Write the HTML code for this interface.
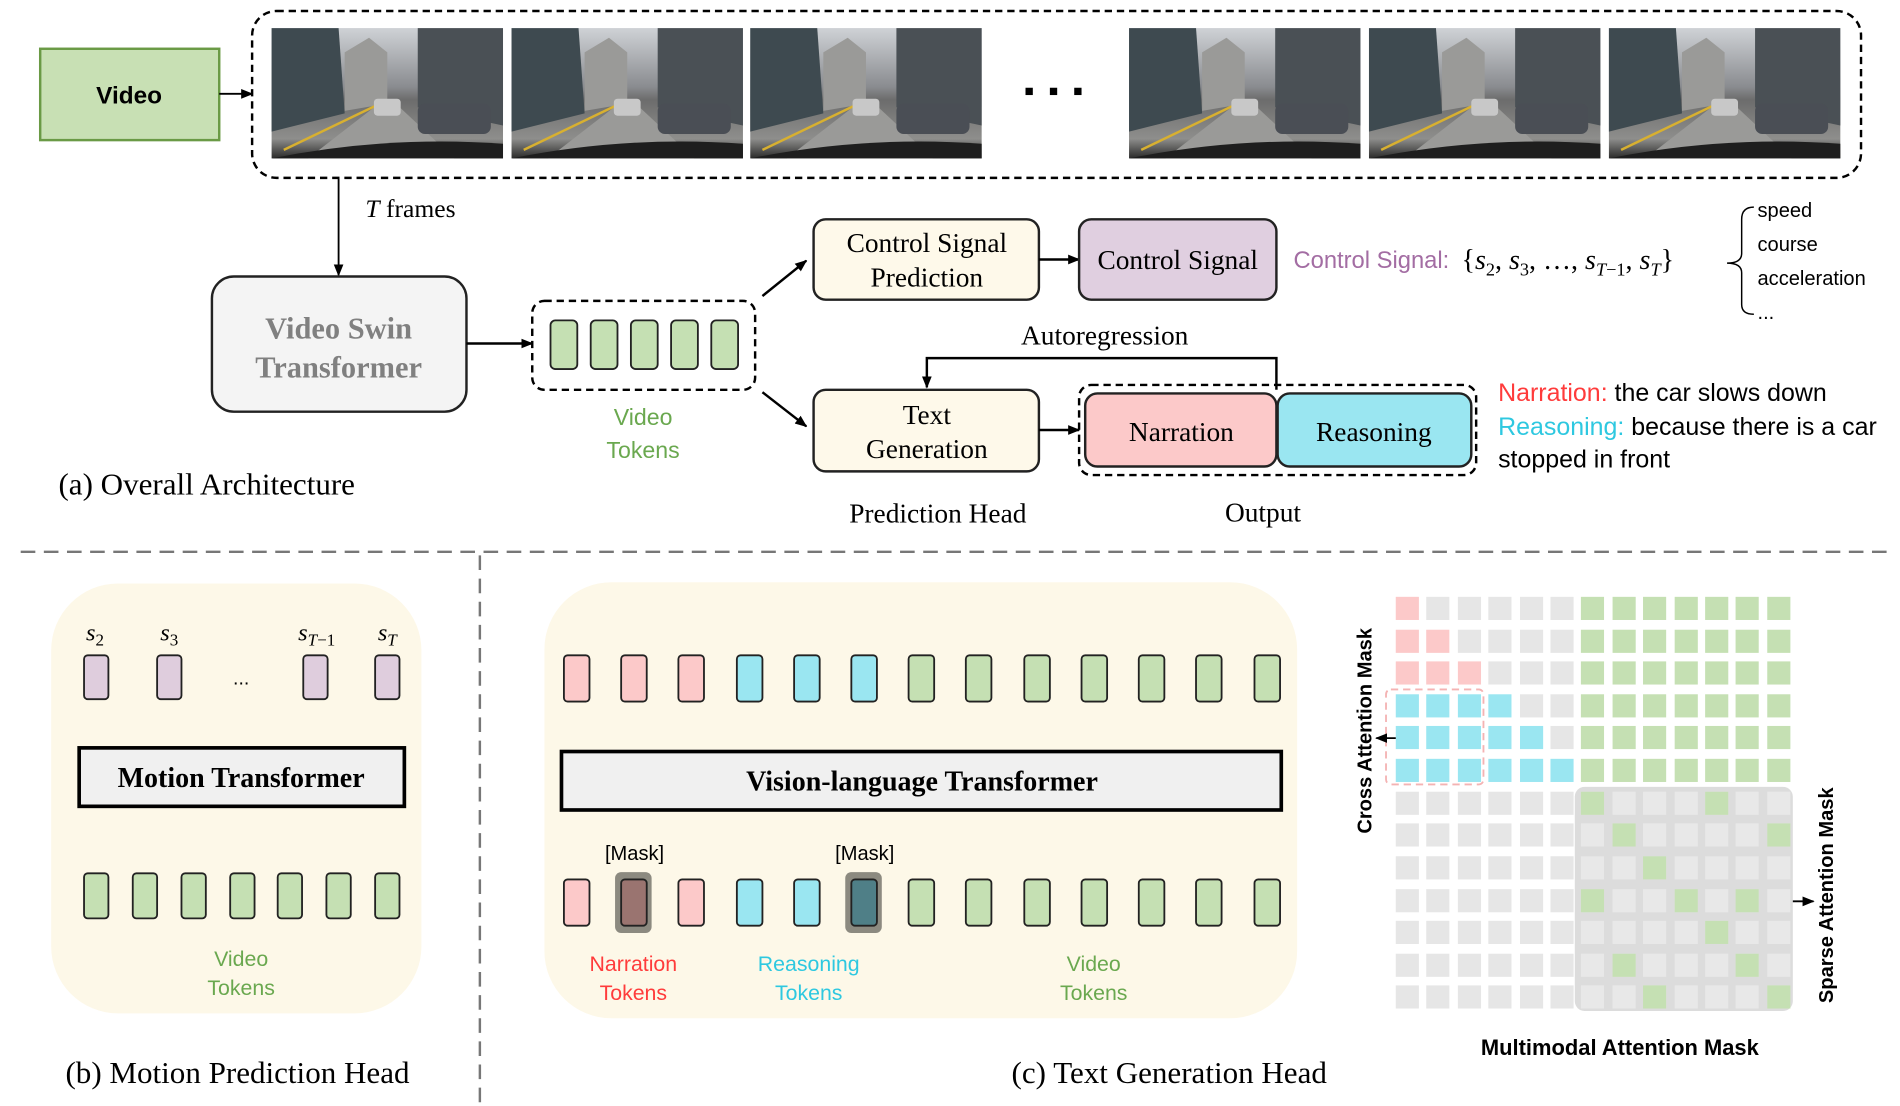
<!DOCTYPE html>
<html><head><meta charset="utf-8"><style>
html,body{margin:0;padding:0;background:#fff;}
svg{display:block;}
.serif{font-family:"Liberation Serif",serif;}
.sans{font-family:"Liberation Sans",sans-serif;}
</style></head><body>
<svg width="1900" height="1106" viewBox="0 0 1560 908" xmlns="http://www.w3.org/2000/svg">
<defs>
<marker id="ah" markerWidth="10" markerHeight="10" refX="9" refY="5" orient="auto" markerUnits="userSpaceOnUse"><path d="M0,1 L10,5 L0,9 z" fill="#000"/></marker>
<linearGradient id="sky" x1="0" y1="0" x2="0" y2="1">
<stop offset="0" stop-color="#cfd2d6"/><stop offset="0.45" stop-color="#8a8c90"/><stop offset="0.55" stop-color="#6c6c6c"/><stop offset="0.85" stop-color="#8e8e8c"/><stop offset="1" stop-color="#2a2a2a"/></linearGradient>
<g id="frame">
<rect width="190" height="107" fill="url(#sky)"/>
<polygon points="0,0 55,0 60,70 0,85" fill="#3e4a50"/>
<polygon points="120,0 190,0 190,80 120,65" fill="#4a5055"/>
<polygon points="60,20 80,8 95,20 95,62 60,68" fill="#9a9a98"/>
<polygon points="30,107 88,62 102,62 150,107" fill="#9a9a98"/>
<path d="M10,100 L85,64" stroke="#d8b030" stroke-width="2"/>
<rect x="120" y="62" width="60" height="25" rx="6" fill="#4a4e55"/>
<rect x="84" y="58" width="22" height="14" rx="3" fill="#c8c8c8"/>
<path d="M0,107 Q95,88 190,95 L190,107 Z" fill="#1e1e1e"/>
</g>
</defs>

<rect x="33" y="40" width="147" height="75" fill="#c8e0b4" stroke="#6a9a45" stroke-width="2"/>
<text x="106" y="85" text-anchor="middle" class="sans" font-size="20" font-weight="bold">Video</text>
<line x1="180" y1="77" x2="207" y2="77" stroke="#000" stroke-width="1.5" marker-end="url(#ah)"/>
<rect x="207" y="9" width="1321" height="137" rx="20" fill="none" stroke="#000" stroke-width="2" stroke-dasharray="6,4"/>
<use href="#frame" x="223" y="23"/>
<use href="#frame" x="420" y="23"/>
<use href="#frame" x="616" y="23"/>
<use href="#frame" x="927" y="23"/>
<use href="#frame" x="1124" y="23"/>
<use href="#frame" x="1321" y="23"/>
<rect x="842" y="72" width="6" height="6" fill="#000"/><rect x="862" y="72" width="6" height="6" fill="#000"/><rect x="882" y="72" width="6" height="6" fill="#000"/>

<line x1="278" y1="146" x2="278" y2="226" stroke="#000" stroke-width="1.5" marker-end="url(#ah)"/>
<text x="300" y="178" class="serif" font-size="21"><tspan font-style="italic">T</tspan> frames</text>

<rect x="174" y="227" width="209" height="111" rx="18" fill="#f4f4f4" stroke="#222" stroke-width="2"/>
<text x="278" y="278" text-anchor="middle" class="serif" font-size="25" font-weight="bold" fill="#808080">Video Swin</text>
<text x="278" y="310" text-anchor="middle" class="serif" font-size="25" font-weight="bold" fill="#808080">Transformer</text>
<line x1="383" y1="282" x2="437" y2="282" stroke="#000" stroke-width="2" marker-end="url(#ah)"/>

<rect x="437" y="247" width="183" height="73" rx="10" fill="none" stroke="#000" stroke-width="2" stroke-dasharray="6,4"/>
<g fill="#c5e0b3" stroke="#222" stroke-width="1.5">
<rect x="452" y="263" width="22" height="40" rx="4"/><rect x="485" y="263" width="22" height="40" rx="4"/><rect x="518" y="263" width="22" height="40" rx="4"/><rect x="551" y="263" width="22" height="40" rx="4"/><rect x="584" y="263" width="22" height="40" rx="4"/>
</g>
<text x="528" y="349" text-anchor="middle" class="sans" font-size="19" fill="#6aa84f">Video</text>
<text x="528" y="376" text-anchor="middle" class="sans" font-size="19" fill="#6aa84f">Tokens</text>

<line x1="626" y1="243" x2="662" y2="214" stroke="#000" stroke-width="2" marker-end="url(#ah)"/>
<line x1="626" y1="322" x2="662" y2="350" stroke="#000" stroke-width="2" marker-end="url(#ah)"/>

<rect x="668" y="180" width="185" height="66" rx="10" fill="#fef9ea" stroke="#222" stroke-width="2"/>
<text x="761" y="207" text-anchor="middle" class="serif" font-size="22.5">Control Signal</text>
<text x="761" y="235" text-anchor="middle" class="serif" font-size="22.5">Prediction</text>
<line x1="853" y1="213" x2="886" y2="213" stroke="#000" stroke-width="2" marker-end="url(#ah)"/>
<rect x="886" y="180" width="162" height="66" rx="10" fill="#e0cfe0" stroke="#222" stroke-width="2"/>
<text x="967" y="221" text-anchor="middle" class="serif" font-size="22.5">Control Signal</text>

<text x="1062" y="220" class="sans" font-size="19.5" fill="#a36da3">Control Signal:</text>
<text x="1200" y="221" class="serif" font-size="23">{<tspan font-style="italic">s</tspan><tspan font-size="15" dy="5">2</tspan><tspan dy="-5">, </tspan><tspan font-style="italic">s</tspan><tspan font-size="15" dy="5">3</tspan><tspan dy="-5">,  …, </tspan><tspan font-style="italic">s</tspan><tspan font-size="15" dy="5" font-style="italic">T</tspan><tspan font-size="15">−1</tspan><tspan dy="-5">, </tspan><tspan font-style="italic">s</tspan><tspan font-size="15" dy="5" font-style="italic">T</tspan><tspan dy="-5">}</tspan></text>
<path d="M1440,170 Q1430,170 1430,180 L1430,208 Q1430,216 1418,216 Q1430,216 1430,224 L1430,250 Q1430,258 1440,258" fill="none" stroke="#000" stroke-width="1.2"/>
<g class="sans" font-size="16.5">
<text x="1443" y="178">speed</text><text x="1443" y="206">course</text><text x="1443" y="234">acceleration</text><text x="1443" y="262">...</text>
</g>

<text x="907" y="283" text-anchor="middle" class="serif" font-size="22.5">Autoregression</text>
<polyline points="1048,320 1048,294 761,294 761,318" fill="none" stroke="#000" stroke-width="2" marker-end="url(#ah)"/>

<rect x="668" y="320" width="185" height="67" rx="10" fill="#fef9ea" stroke="#222" stroke-width="2"/>
<text x="761" y="348" text-anchor="middle" class="serif" font-size="22.5">Text</text>
<text x="761" y="376" text-anchor="middle" class="serif" font-size="22.5">Generation</text>
<line x1="853" y1="353" x2="886" y2="353" stroke="#000" stroke-width="2" marker-end="url(#ah)"/>
<rect x="886" y="316" width="326" height="74" rx="10" fill="none" stroke="#000" stroke-width="2" stroke-dasharray="6,4"/>
<rect x="891" y="323" width="157" height="60" rx="10" fill="#fcc9c9" stroke="#222" stroke-width="2"/>
<rect x="1049" y="323" width="159" height="60" rx="10" fill="#9ae6f1" stroke="#222" stroke-width="2"/>
<text x="970" y="362" text-anchor="middle" class="serif" font-size="22.5">Narration</text>
<text x="1128" y="362" text-anchor="middle" class="serif" font-size="22.5">Reasoning</text>

<g class="sans" font-size="20.5">
<text x="1230" y="329"><tspan fill="#ff3b3b">Narration:</tspan>  the car slows down</text>
<text x="1230" y="357"><tspan fill="#2ec8e0">Reasoning:</tspan> because there is a car</text>
<text x="1230" y="384">stopped in front</text>
</g>

<text x="48" y="406" class="serif" font-size="25.5">(a) Overall Architecture</text>
<text x="770" y="429" text-anchor="middle" class="serif" font-size="22.5">Prediction Head</text>
<text x="1037" y="428" text-anchor="middle" class="serif" font-size="22.5">Output</text>

<line x1="17" y1="453" x2="1556" y2="453" stroke="#777" stroke-width="2" stroke-dasharray="12,7"/>
<line x1="394" y1="456" x2="394" y2="906" stroke="#777" stroke-width="2" stroke-dasharray="12,7"/>

<rect x="42" y="479" width="304" height="353" rx="55" fill="#fdf8e8"/>
<g class="serif" font-size="20" font-style="italic">
<text x="78" y="526" text-anchor="middle">s<tspan font-size="14" dy="4" font-style="normal">2</tspan></text>
<text x="139" y="526" text-anchor="middle">s<tspan font-size="14" dy="4" font-style="normal">3</tspan></text>
<text x="260" y="526" text-anchor="middle">s<tspan font-size="14" dy="4">T</tspan><tspan font-size="14" font-style="normal">−1</tspan></text>
<text x="318" y="526" text-anchor="middle">s<tspan font-size="14" dy="4">T</tspan></text>
</g>
<g fill="#dfcddd" stroke="#222" stroke-width="1.5">
<rect x="69" y="538" width="20" height="36" rx="3"/><rect x="129" y="538" width="20" height="36" rx="3"/><rect x="249" y="538" width="20" height="36" rx="3"/><rect x="308" y="538" width="20" height="36" rx="3"/>
</g>
<text x="198" y="562" text-anchor="middle" class="sans" font-size="16">...</text>
<rect x="65" y="614" width="267" height="48" fill="#f0f0f0" stroke="#000" stroke-width="3"/>
<text x="198" y="646" text-anchor="middle" class="serif" font-size="23" font-weight="bold">Motion Transformer</text>
<g fill="#c5e0b3" stroke="#222" stroke-width="1.5">
<rect x="69" y="717" width="20" height="37" rx="3"/><rect x="109" y="717" width="20" height="37" rx="3"/><rect x="149" y="717" width="20" height="37" rx="3"/><rect x="189" y="717" width="20" height="37" rx="3"/><rect x="228" y="717" width="20" height="37" rx="3"/><rect x="268" y="717" width="20" height="37" rx="3"/><rect x="308" y="717" width="20" height="37" rx="3"/>
</g>
<text x="198" y="793" text-anchor="middle" class="sans" font-size="17.5" fill="#6aa84f">Video</text>
<text x="198" y="817" text-anchor="middle" class="sans" font-size="17.5" fill="#6aa84f">Tokens</text>
<text x="195" y="889" text-anchor="middle" class="serif" font-size="25.5">(b) Motion Prediction Head</text>

<rect x="447" y="478" width="618" height="358" rx="55" fill="#fdf8e8"/>
<g stroke="#222" stroke-width="1.5">
<rect x="463" y="538" width="21" height="38" rx="3" fill="#fcc9c9"/>
<rect x="510" y="538" width="21" height="38" rx="3" fill="#fcc9c9"/>
<rect x="557" y="538" width="21" height="38" rx="3" fill="#fcc9c9"/>
<rect x="605" y="538" width="21" height="38" rx="3" fill="#9ae6f1"/>
<rect x="652" y="538" width="21" height="38" rx="3" fill="#9ae6f1"/>
<rect x="699" y="538" width="21" height="38" rx="3" fill="#9ae6f1"/>
<rect x="746" y="538" width="21" height="38" rx="3" fill="#c5e0b3"/>
<rect x="793" y="538" width="21" height="38" rx="3" fill="#c5e0b3"/>
<rect x="841" y="538" width="21" height="38" rx="3" fill="#c5e0b3"/>
<rect x="888" y="538" width="21" height="38" rx="3" fill="#c5e0b3"/>
<rect x="935" y="538" width="21" height="38" rx="3" fill="#c5e0b3"/>
<rect x="982" y="538" width="21" height="38" rx="3" fill="#c5e0b3"/>
<rect x="1030" y="538" width="21" height="38" rx="3" fill="#c5e0b3"/>
</g>
<rect x="461" y="617" width="591" height="48" fill="#f0f0f0" stroke="#000" stroke-width="3"/>
<text x="757" y="649" text-anchor="middle" class="serif" font-size="23" font-weight="bold">Vision-language Transformer</text>
<text x="521" y="706" text-anchor="middle" class="sans" font-size="16.5">[Mask]</text>
<text x="710" y="706" text-anchor="middle" class="sans" font-size="16.5">[Mask]</text>
<rect x="505" y="716" width="30" height="50" rx="5" fill="#8c8a80"/>
<rect x="694" y="716" width="30" height="50" rx="5" fill="#8c8a80"/>
<g stroke="#222" stroke-width="1.5">
<rect x="463" y="722" width="21" height="38" rx="3" fill="#fcc9c9"/>
<rect x="510" y="722" width="21" height="38" rx="3" fill="#9a7470"/>
<rect x="557" y="722" width="21" height="38" rx="3" fill="#fcc9c9"/>
<rect x="605" y="722" width="21" height="38" rx="3" fill="#9ae6f1"/>
<rect x="652" y="722" width="21" height="38" rx="3" fill="#9ae6f1"/>
<rect x="699" y="722" width="21" height="38" rx="3" fill="#4f7f87"/>
<rect x="746" y="722" width="21" height="38" rx="3" fill="#c5e0b3"/>
<rect x="793" y="722" width="21" height="38" rx="3" fill="#c5e0b3"/>
<rect x="841" y="722" width="21" height="38" rx="3" fill="#c5e0b3"/>
<rect x="888" y="722" width="21" height="38" rx="3" fill="#c5e0b3"/>
<rect x="935" y="722" width="21" height="38" rx="3" fill="#c5e0b3"/>
<rect x="982" y="722" width="21" height="38" rx="3" fill="#c5e0b3"/>
<rect x="1030" y="722" width="21" height="38" rx="3" fill="#c5e0b3"/>
</g>
<g class="sans" font-size="17.5" text-anchor="middle">
<text x="520" y="797" fill="#ff3b3b">Narration</text><text x="520" y="821" fill="#ff3b3b">Tokens</text>
<text x="664" y="797" fill="#2ec8e0">Reasoning</text><text x="664" y="821" fill="#2ec8e0">Tokens</text>
<text x="898" y="797" fill="#6aa84f">Video</text><text x="898" y="821" fill="#6aa84f">Tokens</text>
</g>
<text x="960" y="889" text-anchor="middle" class="serif" font-size="25.5">(c) Text Generation Head</text>

<rect x="1293" y="646" width="179" height="184" rx="8" fill="#dcdcdc"/>
<g>
<rect x="1146" y="490" width="19" height="19" fill="#fcc9c9"/><rect x="1171" y="490" width="19" height="19" fill="#e6e6e6"/><rect x="1197" y="490" width="19" height="19" fill="#e6e6e6"/><rect x="1222" y="490" width="19" height="19" fill="#e6e6e6"/><rect x="1248" y="490" width="19" height="19" fill="#e6e6e6"/><rect x="1273" y="490" width="19" height="19" fill="#e6e6e6"/>
<rect x="1146" y="517" width="19" height="19" fill="#fcc9c9"/><rect x="1171" y="517" width="19" height="19" fill="#fcc9c9"/><rect x="1197" y="517" width="19" height="19" fill="#e6e6e6"/><rect x="1222" y="517" width="19" height="19" fill="#e6e6e6"/><rect x="1248" y="517" width="19" height="19" fill="#e6e6e6"/><rect x="1273" y="517" width="19" height="19" fill="#e6e6e6"/>
<rect x="1146" y="543" width="19" height="19" fill="#fcc9c9"/><rect x="1171" y="543" width="19" height="19" fill="#fcc9c9"/><rect x="1197" y="543" width="19" height="19" fill="#fcc9c9"/><rect x="1222" y="543" width="19" height="19" fill="#e6e6e6"/><rect x="1248" y="543" width="19" height="19" fill="#e6e6e6"/><rect x="1273" y="543" width="19" height="19" fill="#e6e6e6"/>
<rect x="1146" y="570" width="19" height="19" fill="#9ae6f1"/><rect x="1171" y="570" width="19" height="19" fill="#9ae6f1"/><rect x="1197" y="570" width="19" height="19" fill="#9ae6f1"/><rect x="1222" y="570" width="19" height="19" fill="#9ae6f1"/><rect x="1248" y="570" width="19" height="19" fill="#e6e6e6"/><rect x="1273" y="570" width="19" height="19" fill="#e6e6e6"/>
<rect x="1146" y="596" width="19" height="19" fill="#9ae6f1"/><rect x="1171" y="596" width="19" height="19" fill="#9ae6f1"/><rect x="1197" y="596" width="19" height="19" fill="#9ae6f1"/><rect x="1222" y="596" width="19" height="19" fill="#9ae6f1"/><rect x="1248" y="596" width="19" height="19" fill="#9ae6f1"/><rect x="1273" y="596" width="19" height="19" fill="#e6e6e6"/>
<rect x="1146" y="623" width="19" height="19" fill="#9ae6f1"/><rect x="1171" y="623" width="19" height="19" fill="#9ae6f1"/><rect x="1197" y="623" width="19" height="19" fill="#9ae6f1"/><rect x="1222" y="623" width="19" height="19" fill="#9ae6f1"/><rect x="1248" y="623" width="19" height="19" fill="#9ae6f1"/><rect x="1273" y="623" width="19" height="19" fill="#9ae6f1"/>
</g>
<g fill="#c5e0b3">
<rect x="1298" y="490" width="19" height="19"/><rect x="1324" y="490" width="19" height="19"/><rect x="1349" y="490" width="19" height="19"/><rect x="1375" y="490" width="19" height="19"/><rect x="1400" y="490" width="19" height="19"/><rect x="1425" y="490" width="19" height="19"/><rect x="1451" y="490" width="19" height="19"/>
<rect x="1298" y="517" width="19" height="19"/><rect x="1324" y="517" width="19" height="19"/><rect x="1349" y="517" width="19" height="19"/><rect x="1375" y="517" width="19" height="19"/><rect x="1400" y="517" width="19" height="19"/><rect x="1425" y="517" width="19" height="19"/><rect x="1451" y="517" width="19" height="19"/>
<rect x="1298" y="543" width="19" height="19"/><rect x="1324" y="543" width="19" height="19"/><rect x="1349" y="543" width="19" height="19"/><rect x="1375" y="543" width="19" height="19"/><rect x="1400" y="543" width="19" height="19"/><rect x="1425" y="543" width="19" height="19"/><rect x="1451" y="543" width="19" height="19"/>
<rect x="1298" y="570" width="19" height="19"/><rect x="1324" y="570" width="19" height="19"/><rect x="1349" y="570" width="19" height="19"/><rect x="1375" y="570" width="19" height="19"/><rect x="1400" y="570" width="19" height="19"/><rect x="1425" y="570" width="19" height="19"/><rect x="1451" y="570" width="19" height="19"/>
<rect x="1298" y="596" width="19" height="19"/><rect x="1324" y="596" width="19" height="19"/><rect x="1349" y="596" width="19" height="19"/><rect x="1375" y="596" width="19" height="19"/><rect x="1400" y="596" width="19" height="19"/><rect x="1425" y="596" width="19" height="19"/><rect x="1451" y="596" width="19" height="19"/>
<rect x="1298" y="623" width="19" height="19"/><rect x="1324" y="623" width="19" height="19"/><rect x="1349" y="623" width="19" height="19"/><rect x="1375" y="623" width="19" height="19"/><rect x="1400" y="623" width="19" height="19"/><rect x="1425" y="623" width="19" height="19"/><rect x="1451" y="623" width="19" height="19"/>
</g>
<g fill="#e6e6e6">
<rect x="1146" y="650" width="19" height="19"/><rect x="1171" y="650" width="19" height="19"/><rect x="1197" y="650" width="19" height="19"/><rect x="1222" y="650" width="19" height="19"/><rect x="1248" y="650" width="19" height="19"/><rect x="1273" y="650" width="19" height="19"/>
<rect x="1146" y="676" width="19" height="19"/><rect x="1171" y="676" width="19" height="19"/><rect x="1197" y="676" width="19" height="19"/><rect x="1222" y="676" width="19" height="19"/><rect x="1248" y="676" width="19" height="19"/><rect x="1273" y="676" width="19" height="19"/>
<rect x="1146" y="703" width="19" height="19"/><rect x="1171" y="703" width="19" height="19"/><rect x="1197" y="703" width="19" height="19"/><rect x="1222" y="703" width="19" height="19"/><rect x="1248" y="703" width="19" height="19"/><rect x="1273" y="703" width="19" height="19"/>
<rect x="1146" y="730" width="19" height="19"/><rect x="1171" y="730" width="19" height="19"/><rect x="1197" y="730" width="19" height="19"/><rect x="1222" y="730" width="19" height="19"/><rect x="1248" y="730" width="19" height="19"/><rect x="1273" y="730" width="19" height="19"/>
<rect x="1146" y="756" width="19" height="19"/><rect x="1171" y="756" width="19" height="19"/><rect x="1197" y="756" width="19" height="19"/><rect x="1222" y="756" width="19" height="19"/><rect x="1248" y="756" width="19" height="19"/><rect x="1273" y="756" width="19" height="19"/>
<rect x="1146" y="783" width="19" height="19"/><rect x="1171" y="783" width="19" height="19"/><rect x="1197" y="783" width="19" height="19"/><rect x="1222" y="783" width="19" height="19"/><rect x="1248" y="783" width="19" height="19"/><rect x="1273" y="783" width="19" height="19"/>
<rect x="1146" y="809" width="19" height="19"/><rect x="1171" y="809" width="19" height="19"/><rect x="1197" y="809" width="19" height="19"/><rect x="1222" y="809" width="19" height="19"/><rect x="1248" y="809" width="19" height="19"/><rect x="1273" y="809" width="19" height="19"/>
</g>
<g fill="#e8e8e8">
<rect x="1298" y="650" width="19" height="19"/><rect x="1324" y="650" width="19" height="19"/><rect x="1349" y="650" width="19" height="19"/><rect x="1375" y="650" width="19" height="19"/><rect x="1400" y="650" width="19" height="19"/><rect x="1425" y="650" width="19" height="19"/><rect x="1451" y="650" width="19" height="19"/>
<rect x="1298" y="676" width="19" height="19"/><rect x="1324" y="676" width="19" height="19"/><rect x="1349" y="676" width="19" height="19"/><rect x="1375" y="676" width="19" height="19"/><rect x="1400" y="676" width="19" height="19"/><rect x="1425" y="676" width="19" height="19"/><rect x="1451" y="676" width="19" height="19"/>
<rect x="1298" y="703" width="19" height="19"/><rect x="1324" y="703" width="19" height="19"/><rect x="1349" y="703" width="19" height="19"/><rect x="1375" y="703" width="19" height="19"/><rect x="1400" y="703" width="19" height="19"/><rect x="1425" y="703" width="19" height="19"/><rect x="1451" y="703" width="19" height="19"/>
<rect x="1298" y="730" width="19" height="19"/><rect x="1324" y="730" width="19" height="19"/><rect x="1349" y="730" width="19" height="19"/><rect x="1375" y="730" width="19" height="19"/><rect x="1400" y="730" width="19" height="19"/><rect x="1425" y="730" width="19" height="19"/><rect x="1451" y="730" width="19" height="19"/>
<rect x="1298" y="756" width="19" height="19"/><rect x="1324" y="756" width="19" height="19"/><rect x="1349" y="756" width="19" height="19"/><rect x="1375" y="756" width="19" height="19"/><rect x="1400" y="756" width="19" height="19"/><rect x="1425" y="756" width="19" height="19"/><rect x="1451" y="756" width="19" height="19"/>
<rect x="1298" y="783" width="19" height="19"/><rect x="1324" y="783" width="19" height="19"/><rect x="1349" y="783" width="19" height="19"/><rect x="1375" y="783" width="19" height="19"/><rect x="1400" y="783" width="19" height="19"/><rect x="1425" y="783" width="19" height="19"/><rect x="1451" y="783" width="19" height="19"/>
<rect x="1298" y="809" width="19" height="19"/><rect x="1324" y="809" width="19" height="19"/><rect x="1349" y="809" width="19" height="19"/><rect x="1375" y="809" width="19" height="19"/><rect x="1400" y="809" width="19" height="19"/><rect x="1425" y="809" width="19" height="19"/><rect x="1451" y="809" width="19" height="19"/>
</g>
<g fill="#c5e0b3">
<rect x="1298" y="650" width="19" height="19"/><rect x="1400" y="650" width="19" height="19"/>
<rect x="1324" y="676" width="19" height="19"/><rect x="1451" y="676" width="19" height="19"/>
<rect x="1349" y="703" width="19" height="19"/>
<rect x="1298" y="730" width="19" height="19"/><rect x="1375" y="730" width="19" height="19"/><rect x="1425" y="730" width="19" height="19"/>
<rect x="1400" y="756" width="19" height="19"/>
<rect x="1324" y="783" width="19" height="19"/><rect x="1425" y="783" width="19" height="19"/>
<rect x="1349" y="809" width="19" height="19"/><rect x="1451" y="809" width="19" height="19"/>
</g>
<rect x="1138" y="566" width="80" height="78" rx="4" fill="none" stroke="#f4b3b3" stroke-width="1.5" stroke-dasharray="6,4"/>
<line x1="1146" y1="606" x2="1130" y2="606" stroke="#000" stroke-width="1.5" marker-end="url(#ah)"/>
<line x1="1472" y1="740" x2="1489" y2="740" stroke="#000" stroke-width="1.5" marker-end="url(#ah)"/>
<text transform="translate(1126,600) rotate(-90)" text-anchor="middle" class="sans" font-size="16.5" font-weight="bold">Cross Attention Mask</text>
<text transform="translate(1505,735) rotate(-90)" text-anchor="middle" class="sans" font-size="16.5" font-weight="bold">Sparse Attention Mask</text>
<text x="1330" y="866" text-anchor="middle" class="sans" font-size="18" font-weight="bold">Multimodal Attention Mask</text>
</svg>
</body></html>
